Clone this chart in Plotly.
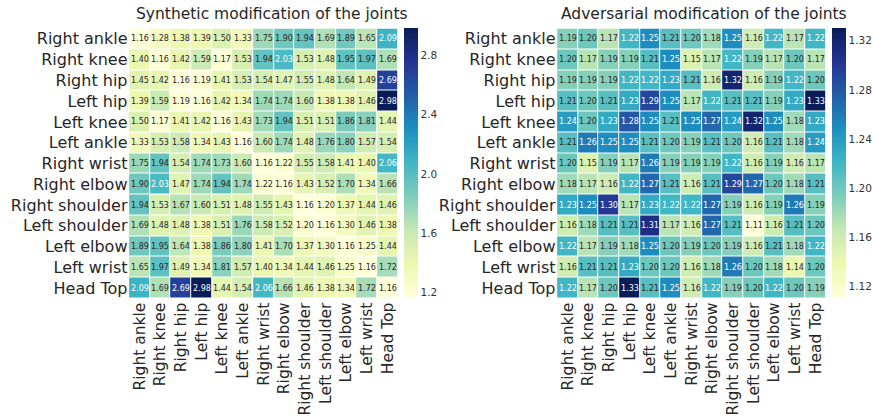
import plotly.graph_objects as go
import plotly.colors as pc

joints = ["Right ankle", "Right knee", "Right hip", "Left hip", "Left knee", "Left ankle",
          "Right wrist", "Right elbow", "Right shoulder", "Left shoulder", "Left elbow",
          "Left wrist", "Head Top"]

synthetic = [
    [1.16, 1.28, 1.38, 1.39, 1.50, 1.33, 1.75, 1.90, 1.94, 1.69, 1.89, 1.65, 2.09],
    [1.40, 1.16, 1.42, 1.59, 1.17, 1.53, 1.94, 2.03, 1.53, 1.48, 1.95, 1.97, 1.69],
    [1.45, 1.42, 1.16, 1.19, 1.41, 1.53, 1.54, 1.47, 1.55, 1.48, 1.64, 1.49, 2.69],
    [1.39, 1.59, 1.19, 1.16, 1.42, 1.34, 1.74, 1.74, 1.60, 1.38, 1.38, 1.46, 2.98],
    [1.50, 1.17, 1.41, 1.42, 1.16, 1.43, 1.73, 1.94, 1.51, 1.51, 1.86, 1.81, 1.44],
    [1.33, 1.53, 1.58, 1.34, 1.43, 1.16, 1.60, 1.74, 1.48, 1.76, 1.80, 1.57, 1.54],
    [1.75, 1.94, 1.54, 1.74, 1.73, 1.60, 1.16, 1.22, 1.55, 1.58, 1.41, 1.40, 2.06],
    [1.90, 2.03, 1.47, 1.74, 1.94, 1.74, 1.22, 1.16, 1.43, 1.52, 1.70, 1.34, 1.66],
    [1.94, 1.53, 1.67, 1.60, 1.51, 1.48, 1.55, 1.43, 1.16, 1.20, 1.37, 1.44, 1.46],
    [1.69, 1.48, 1.48, 1.38, 1.51, 1.76, 1.58, 1.52, 1.20, 1.16, 1.30, 1.46, 1.38],
    [1.89, 1.95, 1.64, 1.38, 1.86, 1.80, 1.41, 1.70, 1.37, 1.30, 1.16, 1.25, 1.44],
    [1.65, 1.97, 1.49, 1.34, 1.81, 1.57, 1.40, 1.34, 1.44, 1.46, 1.25, 1.16, 1.72],
    [2.09, 1.69, 2.69, 2.98, 1.44, 1.54, 2.06, 1.66, 1.46, 1.38, 1.34, 1.72, 1.16],
]

adversarial = [
    [1.19, 1.20, 1.17, 1.22, 1.25, 1.21, 1.20, 1.18, 1.25, 1.16, 1.22, 1.17, 1.22],
    [1.20, 1.17, 1.19, 1.19, 1.21, 1.25, 1.15, 1.17, 1.22, 1.19, 1.17, 1.20, 1.17],
    [1.19, 1.19, 1.19, 1.22, 1.22, 1.23, 1.21, 1.16, 1.32, 1.16, 1.19, 1.22, 1.20],
    [1.21, 1.20, 1.21, 1.23, 1.29, 1.25, 1.17, 1.22, 1.21, 1.21, 1.19, 1.23, 1.33],
    [1.24, 1.20, 1.23, 1.28, 1.25, 1.21, 1.25, 1.27, 1.24, 1.32, 1.25, 1.18, 1.23],
    [1.21, 1.26, 1.25, 1.25, 1.21, 1.20, 1.19, 1.21, 1.20, 1.16, 1.21, 1.18, 1.24],
    [1.20, 1.15, 1.19, 1.17, 1.26, 1.19, 1.19, 1.19, 1.22, 1.16, 1.19, 1.16, 1.17],
    [1.18, 1.17, 1.16, 1.22, 1.27, 1.21, 1.16, 1.21, 1.29, 1.27, 1.20, 1.18, 1.21],
    [1.23, 1.25, 1.30, 1.17, 1.23, 1.22, 1.22, 1.27, 1.19, 1.16, 1.19, 1.26, 1.19],
    [1.16, 1.18, 1.21, 1.21, 1.31, 1.17, 1.16, 1.27, 1.21, 1.11, 1.16, 1.21, 1.20],
    [1.22, 1.17, 1.19, 1.18, 1.25, 1.20, 1.19, 1.20, 1.19, 1.16, 1.21, 1.18, 1.22],
    [1.16, 1.21, 1.21, 1.23, 1.20, 1.20, 1.16, 1.18, 1.26, 1.20, 1.18, 1.14, 1.20],
    [1.22, 1.17, 1.20, 1.33, 1.21, 1.25, 1.16, 1.22, 1.19, 1.20, 1.22, 1.20, 1.19],
]

titles = ["Synthetic modification of the joints", "Adversarial modification of the joints"]
cb_ticks_left = [1.2, 1.6, 2.0, 2.4, 2.8]
cb_ticks_right = [1.12, 1.16, 1.20, 1.24, 1.28, 1.32]

W, H = 873, 418
FONT = "DejaVu Sans"
cscale = pc.sequential.YlGnBu
cscale_list = [[i / (len(cscale) - 1), c] for i, c in enumerate(cscale)]


def px_x(p):
    return p / W


def px_y(p):
    return 1 - p / H


def lum(rgbstr):
    r, g, b = pc.unlabel_rgb(rgbstr)
    vals = []
    for v in (r, g, b):
        v = v / 255.0
        vals.append(v / 12.92 if v <= 0.03928 else ((v + 0.055) / 1.055) ** 2.4)
    return 0.2126 * vals[0] + 0.7152 * vals[1] + 0.0722 * vals[2]


fig = go.Figure()
# (data, left px, right px, colorbar left px, colorbar ticks, tick format, title center px)
panels = [
    (synthetic, 128.5, 398.5, 403.5, cb_ticks_left, ".1f", 272),
    (adversarial, 556.5, 826.5, 831.5, cb_ticks_right, ".2f", 704),
]
top, bottom = 28.5, 298.5
annotations = []
for k, (data, x0, x1, cbx, ticks, tfmt, tcx) in enumerate(panels):
    zmin = min(min(r) for r in data)
    zmax = max(max(r) for r in data)
    xa = "x" if k == 0 else "x2"
    ya = "y" if k == 0 else "y2"
    fig.add_trace(go.Heatmap(
        z=data, x=joints, y=joints, xaxis=xa, yaxis=ya,
        colorscale=cscale_list, zmin=zmin, zmax=zmax,
        xgap=1, ygap=1, hoverinfo="skip",
        colorbar=dict(
            x=px_x(cbx), xanchor="left", xpad=0, ypad=0,
            y=px_y((top + bottom) / 2), yanchor="middle",
            len=(bottom - top) / H, lenmode="fraction",
            thickness=14, thicknessmode="pixels",
            outlinewidth=0, tickvals=ticks, tickformat=tfmt,
            ticks="", ticklabelposition="outside",
            tickfont=dict(family=FONT, size=10.5, color="#333"),
        ),
    ))
    for i, row in enumerate(data):
        for j, v in enumerate(row):
            t = (v - zmin) / (zmax - zmin)
            col = pc.sample_colorscale(cscale_list, [t])[0]
            tc = "#262626" if lum(col) > 0.408 else "white"
            annotations.append(dict(
                x=joints[j], y=joints[i], xref=xa, yref=ya,
                text=f"{v:.2f}", showarrow=False,
                font=dict(family=FONT, size=8, color=tc),
            ))
    xaxis_key = "xaxis" if k == 0 else "xaxis2"
    yaxis_key = "yaxis" if k == 0 else "yaxis2"
    fig.update_layout(**{
        xaxis_key: dict(
            domain=[px_x(x0), px_x(x1)], anchor=ya, tickangle=-90,
            showgrid=False, zeroline=False, ticks="", automargin=False,
            tickfont=dict(family=FONT, size=15.5, color="#262626"),
        ),
        yaxis_key: dict(
            domain=[px_y(bottom), px_y(top)], anchor=xa, autorange="reversed",
            showgrid=False, zeroline=False, ticks="", automargin=False,
            tickfont=dict(family=FONT, size=16, color="#262626"),
        ),
    })
    annotations.append(dict(
        x=px_x(tcx), y=px_y(14), xref="paper", yref="paper",
        text=titles[k], showarrow=False, xanchor="center", yanchor="middle",
        font=dict(family=FONT, size=15.5, color="#262626"),
    ))

fig.update_layout(
    width=W, height=H, margin=dict(l=0, r=0, t=0, b=0, autoexpand=False),
    paper_bgcolor="white", plot_bgcolor="white",
    annotations=annotations, showlegend=False,
)
fig.write_html(
    "out.html",
    config={"displayModeBar": False},
    post_script="document.body.style.margin='0px';document.body.style.overflow='hidden';",
)
